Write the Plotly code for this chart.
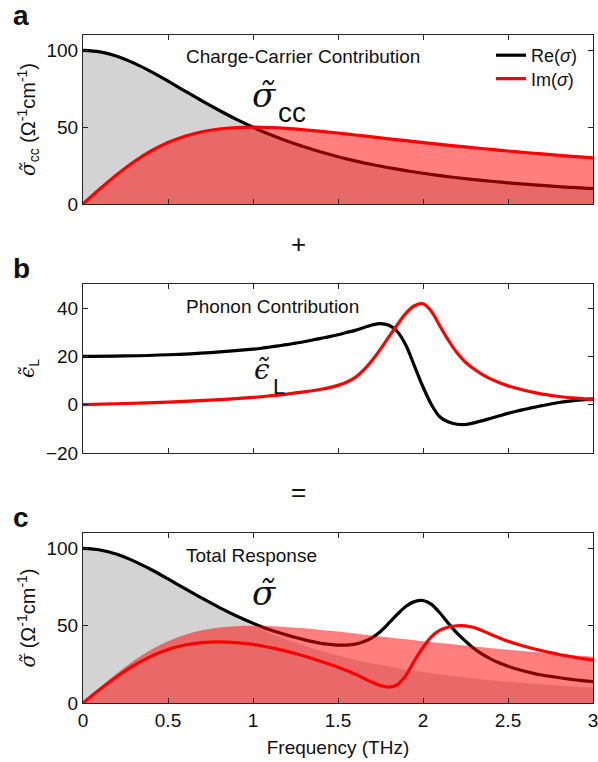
import plotly.graph_objects as go

# ---------------- data ----------------
freq_a = [0, 0.1, 0.2, 0.3, 0.4, 0.5, 0.6, 0.7, 0.8, 0.9, 1.0, 1.1, 1.2, 1.3, 1.4, 1.5,
          1.6, 1.7, 1.8, 1.9, 2.0, 2.1, 2.2, 2.3, 2.4, 2.5, 2.6, 2.7, 2.8, 2.9, 3.0]
re_cc = [100, 99.0, 96.2, 91.7, 86.2, 80.0, 73.5, 67.1, 61.0, 55.2, 50.0, 45.2, 41.0, 37.2, 33.8,
         30.8, 28.1, 25.7, 23.6, 21.7, 20.0, 18.5, 17.1, 15.9, 14.8, 13.8, 12.9, 12.1, 11.3, 10.6, 10.0]
im_cc = [0, 9.9, 19.2, 27.5, 34.5, 40.0, 44.1, 47.0, 48.8, 49.7, 50.0, 49.8, 49.2, 48.3, 47.3,
         46.2, 44.9, 43.7, 42.4, 41.2, 40.0, 38.8, 37.7, 36.6, 35.5, 34.5, 33.5, 32.6, 31.7, 30.8, 30.0]

freq_b = [0, 0.25, 0.5, 0.75,
          1.0, 1.05, 1.1, 1.15, 1.2, 1.25, 1.3, 1.35, 1.4, 1.45, 1.5, 1.55, 1.6, 1.65, 1.7, 1.75,
          1.8, 1.85, 1.9, 1.95, 2.0, 2.05, 2.1, 2.15, 2.2, 2.25, 2.3, 2.35, 2.4, 2.45, 2.5, 2.55,
          2.6, 2.65, 2.7, 2.75, 2.8, 2.85, 2.9, 2.95, 3.0]
re_eps = [20.0, 20.2, 20.7, 21.6,
          23.0, 23.4, 23.9, 24.4, 24.9, 25.5, 26.1, 26.8, 27.5, 28.2, 29.0, 29.9, 30.8, 31.9, 33.0, 33.6,
          32.9, 30.2, 24.5, 16.0, 7.4, 0.0, -5.1, -7.2, -8.1, -8.2, -7.5, -6.6, -5.6, -4.6, -3.6, -2.7,
          -1.9, -1.1, -0.4, 0.3, 0.9, 1.4, 1.8, 2.1, 2.4]
im_eps = [0, 0.5, 1.1, 1.9,
          3.0, 3.3, 3.7, 4.0, 4.4, 4.9, 5.3, 5.8, 6.4, 7.1, 8.0, 9.3, 11.2, 14.3, 18.3, 23.0,
          28.2, 33.2, 37.9, 41.0, 41.8, 38.6, 32.5, 26.6, 21.5, 17.6, 14.8, 12.5, 10.6, 9.1, 7.8, 6.8,
          5.9, 5.1, 4.4, 3.9, 3.4, 3.0, 2.7, 2.4, 2.2]

freq_c = [0, 0.1, 0.2, 0.3, 0.4, 0.5, 0.6, 0.7, 0.8, 0.9,
          1.0, 1.05, 1.1, 1.15, 1.2, 1.25, 1.3, 1.35, 1.4, 1.45, 1.5, 1.55, 1.6, 1.65, 1.7, 1.75,
          1.8, 1.85, 1.9, 1.95, 2.0, 2.05, 2.1, 2.15, 2.2, 2.25, 2.3, 2.35, 2.4, 2.45, 2.5, 2.55,
          2.6, 2.65, 2.7, 2.75, 2.8, 2.85, 2.9, 2.95, 3.0]
re_tot = [100, 99.0, 96.2, 91.8, 86.4, 80.3, 74.0, 67.8, 61.9, 56.5,
          51.6, 49.4, 47.4, 45.6, 43.9, 42.4, 41.0, 39.7, 38.6, 37.9, 37.5, 37.5, 38.1, 39.7, 42.2, 46.3,
          51.8, 57.5, 62.6, 65.6, 66.3, 63.8, 58.2, 51.5, 45.2, 40.0, 35.2, 31.4, 28.4, 25.9, 23.8, 22.0,
          20.5, 19.2, 18.1, 17.2, 16.4, 15.6, 14.9, 14.3, 13.8]
im_tot = [0, 8.9, 17.1, 24.3, 30.2, 34.6, 37.5, 39.1, 39.6, 39.1,
          37.9, 37.0, 35.9, 34.7, 33.4, 32.0, 30.4, 28.7, 26.9, 25.1, 23.2, 21.0, 18.7, 16.1, 13.5, 11.3,
          10.3, 11.9, 18.0, 27.5, 36.0, 43.0, 47.1, 49.2, 50.0, 49.9, 48.8, 46.8, 44.3, 42.0, 39.9, 38.2,
          36.6, 35.1, 33.8, 32.6, 31.4, 30.4, 29.4, 28.5, 27.7]

x_ticks = [0, 0.5, 1, 1.5, 2, 2.5, 3]
x_tick_text = ["0", "0.5", "1", "1.5", "2", "2.5", "3"]

# ---------------- styling ----------------
FONT = "Liberation Sans, Arial, Helvetica, sans-serif"
MATH = "DejaVu Serif"
GRAY_FILL = "#d3d3d3"
RED_FILL = "rgba(255,0,0,0.5)"
LW = 3.2
TXT = "#111111"

W, H = 598, 762
ML, MR, MT, MB = 83, 5, 35, 59
PW, PH = W - ML - MR, H - MT - MB


def px_x(p):
    return (p - ML) / PW


def px_y(p):
    return (H - MB - p) / PH


def sig():
    return '<span style="font-family:%s"><i>σ̃</i></span>' % MATH


fig = go.Figure()

# panel a
fig.add_trace(go.Scatter(x=freq_a, y=re_cc, mode="lines", fill="tozeroy", fillcolor=GRAY_FILL,
                         line=dict(width=0, shape="spline"), showlegend=False, hoverinfo="skip",
                         xaxis="x", yaxis="y"))
fig.add_trace(go.Scatter(x=freq_a, y=re_cc, mode="lines", name="Re(<i>σ</i>)", legend="legend",
                         line=dict(color="black", width=LW, shape="spline"), xaxis="x", yaxis="y"))
fig.add_trace(go.Scatter(x=freq_a, y=im_cc, mode="lines", fill="tozeroy", fillcolor=RED_FILL,
                         line=dict(width=0, shape="spline"), showlegend=False, hoverinfo="skip",
                         xaxis="x", yaxis="y"))
fig.add_trace(go.Scatter(x=freq_a, y=im_cc, mode="lines", name="Im(<i>σ</i>)", legend="legend2",
                         line=dict(color="red", width=LW, shape="spline"), xaxis="x", yaxis="y"))

# panel b
fig.add_trace(go.Scatter(x=freq_b, y=re_eps, mode="lines", showlegend=False,
                         line=dict(color="black", width=LW, shape="spline", smoothing=0.9),
                         xaxis="x2", yaxis="y2"))
fig.add_trace(go.Scatter(x=freq_b, y=im_eps, mode="lines", showlegend=False,
                         line=dict(color="red", width=LW, shape="spline", smoothing=0.9),
                         xaxis="x2", yaxis="y2"))

# panel c
fig.add_trace(go.Scatter(x=freq_a, y=re_cc, mode="lines", fill="tozeroy", fillcolor=GRAY_FILL,
                         line=dict(width=0, shape="spline"), showlegend=False, hoverinfo="skip",
                         xaxis="x3", yaxis="y3"))
fig.add_trace(go.Scatter(x=freq_c, y=re_tot, mode="lines", showlegend=False,
                         line=dict(color="black", width=LW, shape="spline", smoothing=0.9),
                         xaxis="x3", yaxis="y3"))
fig.add_trace(go.Scatter(x=freq_c, y=im_tot, mode="lines", showlegend=False,
                         line=dict(color="red", width=LW, shape="spline", smoothing=0.9),
                         xaxis="x3", yaxis="y3"))
fig.add_trace(go.Scatter(x=freq_a, y=im_cc, mode="lines", fill="tozeroy", fillcolor=RED_FILL,
                         line=dict(width=0, shape="spline"), showlegend=False, hoverinfo="skip",
                         xaxis="x3", yaxis="y3"))

axis_common = dict(showline=True, linecolor="#262626", linewidth=1, mirror="ticks",
                   ticks="inside", ticklen=5, tickcolor="#262626", showgrid=False,
                   zeroline=False, automargin=False, ticklabeloverflow="allow",
                   tickfont=dict(family=FONT, size=19, color=TXT))

dom_a = [px_y(204), 1.0]
dom_b = [px_y(453), px_y(284)]
dom_c = [0.0, px_y(533)]

leg_common = dict(xanchor="left", yanchor="top", bgcolor="rgba(0,0,0,0)",
                  font=dict(family=FONT, size=18, color=TXT), itemwidth=30)

layout = dict(
    width=W, height=H,
    margin=dict(l=ML, r=MR, t=MT, b=MB),
    paper_bgcolor="white", plot_bgcolor="white",
    font=dict(family=FONT, color=TXT),
    showlegend=True,
    legend=dict(leg_common, x=px_x(491), y=px_y(37)),
    legend2=dict(leg_common, x=px_x(491), y=px_y(60.5)),
)
layout["xaxis"] = dict(axis_common, domain=[0, 1], range=[0, 3], tickvals=x_ticks,
                       showticklabels=False, anchor="y")
layout["yaxis"] = dict(axis_common, domain=dom_a, range=[0, 110], tickvals=[0, 50, 100],
                       anchor="x",
                       title=dict(text=sig() + "<sub>cc</sub> (Ω<sup>-1</sup>cm<sup>-1</sup>)",
                                  font=dict(family=FONT, size=20, color=TXT), standoff=5))
layout["xaxis2"] = dict(axis_common, domain=[0, 1], range=[0, 3], tickvals=x_ticks,
                        showticklabels=False, anchor="y2")
layout["yaxis2"] = dict(axis_common, domain=dom_b, range=[-20, 50], tickvals=[-20, 0, 20, 40],
                        anchor="x2",
                        title=dict(text='<span style="font-family:DejaVu Serif"><i>ϵ̃</i></span><sub>L</sub>',
                                   font=dict(family=FONT, size=20, color=TXT), standoff=5))
layout["xaxis3"] = dict(axis_common, domain=[0, 1], range=[0, 3], tickvals=x_ticks,
                        ticktext=x_tick_text, anchor="y3",
                        title=dict(text="Frequency (THz)", font=dict(family=FONT, size=19, color=TXT),
                                   standoff=10))
layout["yaxis3"] = dict(axis_common, domain=dom_c, range=[0, 110], tickvals=[0, 50, 100],
                        anchor="x3",
                        title=dict(text=sig() + " (Ω<sup>-1</sup>cm<sup>-1</sup>)",
                                   font=dict(family=FONT, size=20, color=TXT), standoff=5))
fig.update_layout(**layout)


def ann(text, px, py, size, xanchor="left", yanchor="middle", bold=False, family=FONT):
    fig.add_annotation(text=("<b>%s</b>" % text) if bold else text, xref="paper", yref="paper",
                       x=px_x(px), y=px_y(py), xanchor=xanchor, yanchor=yanchor,
                       showarrow=False, font=dict(family=family, size=size, color=TXT))


ann("a", 11, 15, 28, bold=True)
ann("b", 11, 268, 28, bold=True)
ann("c", 11, 517, 28, bold=True)
ann("+", 298, 244, 26, xanchor="center")
ann("=", 298, 492, 26, xanchor="center")
ann("Charge-Carrier Contribution", 184, 56, 19)
ann("Phonon Contribution", 184, 306, 19)
ann("Total Response", 184, 555, 19)
ann("<i>σ̃</i>", 264, 95, 34, xanchor="center", family=MATH)
ann("cc", 276, 112, 28)
ann("<i>ϵ̃</i>", 262, 369, 28, xanchor="center", family=MATH)
ann("L", 271, 387, 22)
ann("<i>σ̃</i>", 264, 593, 34, xanchor="center", family=MATH)

fig.write_html("out.html", config={"displayModeBar": False},
               post_script="document.body.style.margin='0px';document.body.style.overflow='hidden';")
